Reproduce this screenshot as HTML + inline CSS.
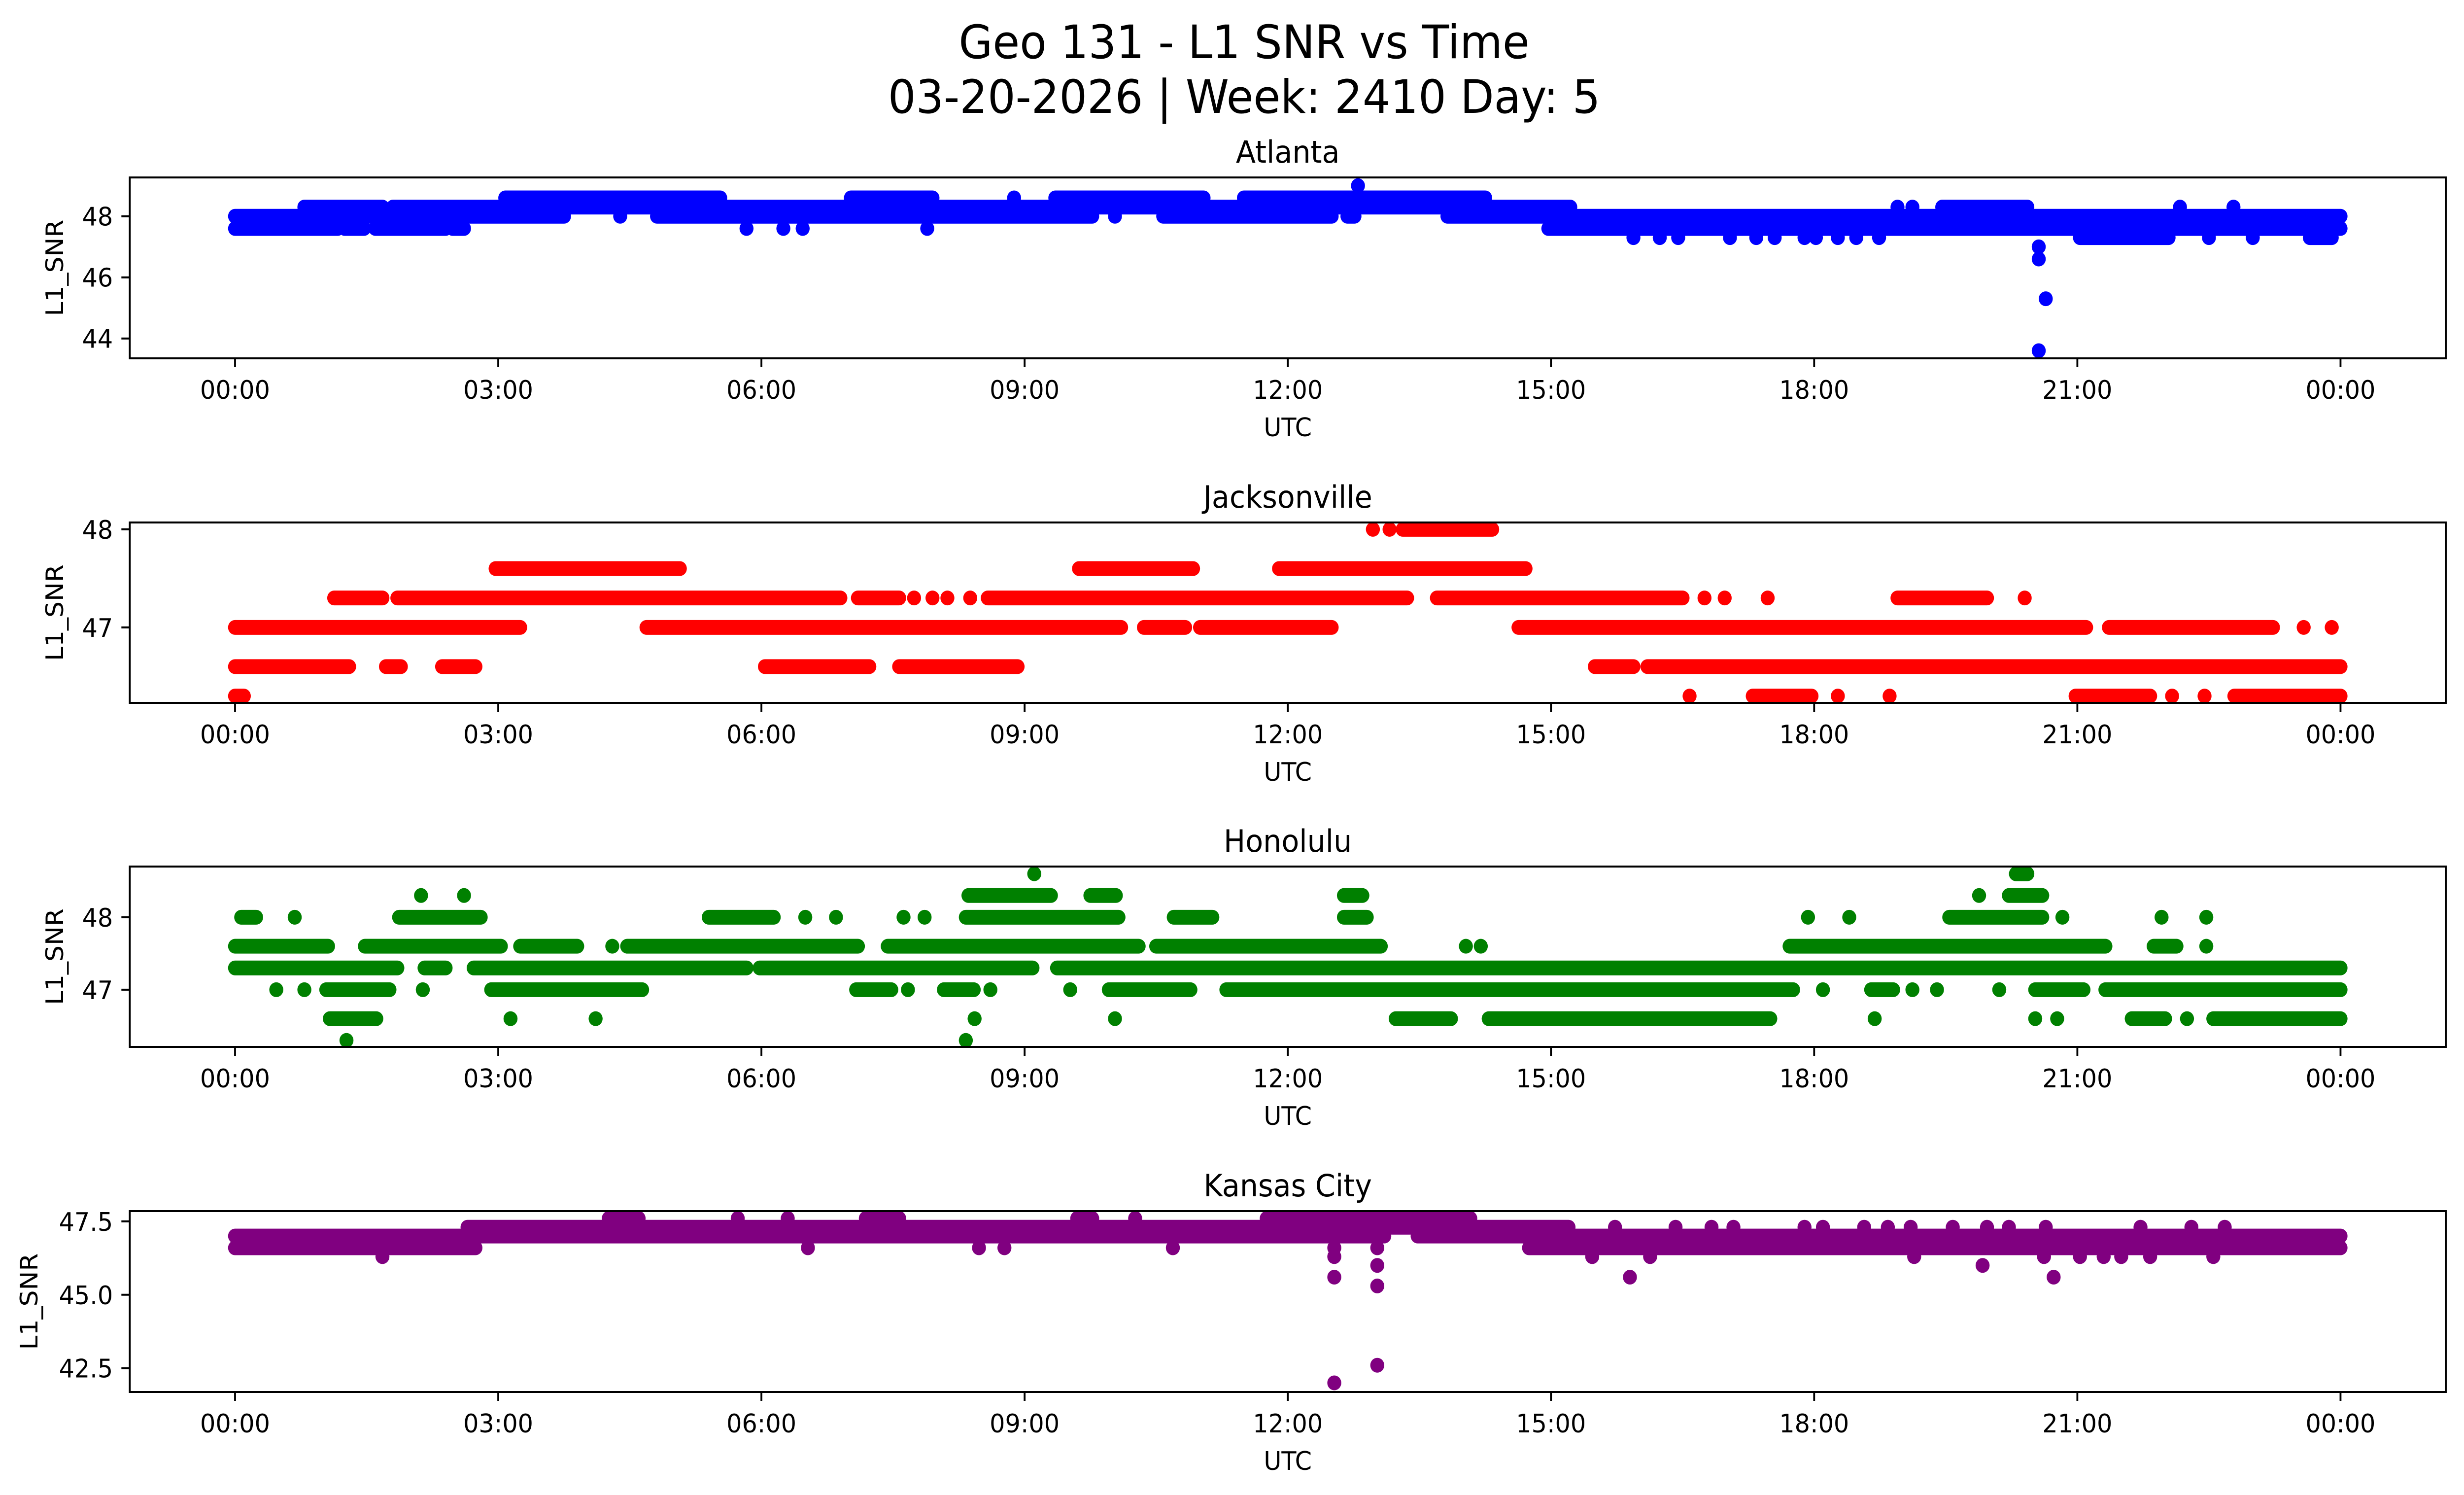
<!DOCTYPE html>
<html><head><meta charset="utf-8"><title>Geo 131 - L1 SNR vs Time</title>
<style>
html,body{margin:0;padding:0;background:#fff;overflow:hidden;width:100%;height:100%;}
svg{display:block;width:100vw;height:100vh;font-family:"DejaVu Sans","Liberation Sans",sans-serif;}
</style></head>
<body>
<svg id="fig" viewBox="0 0 5278 3033" preserveAspectRatio="none" xmlns="http://www.w3.org/2000/svg">
<rect width="5278" height="3033" fill="#fff"/>
<text x="2665" y="118" font-size="94" text-anchor="middle">Geo 131 - L1 SNR vs Time</text>
<text x="2665" y="229" font-size="94" text-anchor="middle">03-20-2026 | Week: 2410 Day: 5</text>
<g id="plots"></g>
</svg>
<script>
// ---- shared x axis data ----
const xTickHours = [0, 3, 6, 9, 12, 15, 18, 21, 24];
const xTickLabels = ["00:00","03:00","06:00","09:00","12:00","15:00","18:00","21:00","00:00"];

// ---- Atlanta ----
const atlLevels = [47.6, 48.0, 48.3, 48.6, 49.0, 47.3];
const atlRuns = [
  [[0,1.17],[1.25,1.47],[1.6,2.4],[2.48,2.61],[5.83,5.83],[6.25,6.25],[6.47,6.47],[7.89,7.89],[14.97,24]],
  [[0,3.75],[4.39,4.39],[4.81,9.77],[10.03,10.03],[10.58,12.5],[12.68,12.76],[13.82,24]],
  [[0.79,1.68],[1.8,15.22],[18.95,18.95],[19.12,19.12],[19.46,20.43],[22.17,22.17],[22.78,22.78]],
  [[3.08,5.53],[7.02,7.95],[8.88,8.88],[9.35,11.04],[11.5,14.25]],
  [[12.8,12.8]],
  [[15.94,15.94],[16.24,16.24],[16.45,16.45],[17.04,17.04],[17.34,17.34],[17.55,17.55],[17.89,17.89],[18.02,18.02],[18.27,18.27],[18.48,18.48],[18.74,18.74],[21.03,22.04],[22.5,22.5],[23.0,23.0],[23.65,23.9]]
];
const atlOutTime = [20.56, 20.56, 20.64, 20.56];
const atlOutValue = [47.0, 46.6, 45.3, 43.6];
const atlYTicks = [44, 46, 48];

// ---- Jacksonville ----
const jaxLevels = [48.0, 47.6, 47.3, 47.0, 46.6, 46.3];
const jaxRuns = [
  [[12.97,12.97],[13.16,13.16],[13.31,14.33]],
  [[2.97,5.07],[9.62,10.92],[11.9,14.71]],
  [[1.13,1.68],[1.85,6.9],[7.1,7.57],[7.74,7.74],[7.95,7.95],[8.12,8.12],[8.38,8.38],[8.58,13.36],[13.7,16.5],[16.75,16.75],[16.98,16.98],[17.47,17.47],[18.95,19.97],[20.4,20.4]],
  [[0,3.25],[4.69,10.1],[10.36,10.83],[11.0,12.5],[14.63,21.1],[21.36,23.23],[23.58,23.58],[23.9,23.9]],
  [[0,1.3],[1.72,1.89],[2.36,2.74],[6.04,7.23],[7.57,8.92],[15.5,15.94],[16.1,24]],
  [[0,0.1],[16.58,16.58],[17.3,17.97],[18.27,18.27],[18.86,18.86],[20.98,21.83],[22.08,22.08],[22.45,22.45],[22.79,24]]
];
const jaxOutTime = [];
const jaxOutValue = [];
const jaxYTicks = [47, 48];

// ---- Honolulu ----
const honLevels = [48.6, 48.3, 48.0, 47.6, 47.3, 47.0, 46.6, 46.3];
const honRuns = [
  [[9.11,9.11],[20.3,20.43]],
  [[2.12,2.12],[2.61,2.61],[8.36,9.3],[9.75,10.04],[12.64,12.85],[19.88,19.88],[20.22,20.6]],
  [[0.07,0.24],[0.68,0.68],[1.87,2.8],[5.4,6.14],[6.5,6.5],[6.85,6.85],[7.62,7.62],[7.86,7.86],[8.33,10.07],[10.7,11.14],[12.64,12.9],[17.93,17.93],[18.4,18.4],[19.54,20.6],[20.83,20.83],[21.96,21.96],[22.47,22.47]],
  [[0,1.06],[1.48,3.03],[3.25,3.9],[4.3,4.3],[4.47,7.1],[7.44,10.3],[10.5,13.06],[14.03,14.03],[14.2,14.2],[17.72,21.32],[21.87,22.13],[22.47,22.47]],
  [[0,1.85],[2.16,2.4],[2.72,5.83],[5.98,9.09],[9.37,24]],
  [[0.47,0.47],[0.79,0.79],[1.04,1.76],[2.14,2.14],[2.92,4.64],[7.08,7.48],[7.67,7.67],[8.08,8.42],[8.61,8.61],[9.52,9.52],[9.96,10.89],[11.3,17.76],[18.1,18.1],[18.65,18.9],[19.12,19.12],[19.4,19.4],[20.11,20.11],[20.52,21.07],[21.32,24]],
  [[1.08,1.61],[3.14,3.14],[4.11,4.11],[8.43,8.43],[10.03,10.03],[13.23,13.86],[14.29,17.5],[18.69,18.69],[20.52,20.52],[20.77,20.77],[21.62,22.0],[22.25,22.25],[22.55,24]],
  [[1.27,1.27],[8.33,8.33]]
];
const honOutTime = [];
const honOutValue = [];
const honYTicks = [47, 48];

// ---- Kansas City ----
const kcLevels = [47.6, 47.3, 47.0, 46.6, 46.3];
const kcRuns = [
  [[4.26,4.6],[5.73,5.73],[6.3,6.3],[7.19,7.57],[9.6,9.77],[10.26,10.26],[11.76,14.08]],
  [[2.65,15.2],[15.73,15.73],[16.42,16.42],[16.83,16.83],[17.08,17.08],[17.89,17.89],[18.1,18.1],[18.57,18.57],[18.84,18.84],[19.1,19.1],[19.58,19.58],[19.97,19.97],[20.22,20.22],[20.64,20.64],[21.72,21.72],[22.3,22.3],[22.68,22.68]],
  [[0,13.1],[13.48,24]],
  [[0,2.74],[6.53,6.53],[8.48,8.48],[8.77,8.77],[10.69,10.69],[12.53,12.53],[13.02,13.02],[14.75,24]],
  [[1.68,1.68],[12.53,12.53],[15.47,15.47],[16.13,16.13],[19.14,19.14],[20.62,20.62],[21.03,21.03],[21.3,21.3],[21.5,21.5],[21.83,21.83],[22.55,22.55]]
];
const kcOutTime = [12.53, 12.53, 13.02, 13.02, 13.02, 19.92, 15.9, 20.73];
const kcOutValue = [45.6, 42.0, 46.0, 45.3, 42.6, 46.0, 45.6, 45.6];
const kcYTicks = [42.5, 45.0, 47.5];

// ---- layout (not data) ----
const AX_L = 278, AX_R = 5239, X_MIN = -1.2, X_MAX = 25.2, R = 15;
const panels = [
  {key:"atlanta", title:"Atlanta", color:"#0000ff", top:360, bot:727, ymin:43.35, ymax:49.27, levels:atlLevels, runs:atlRuns, ot:atlOutTime, ov:atlOutValue, ticks:atlYTicks, fmt:v=>String(v), ylabX:135},
  {key:"jacksonville", title:"Jacksonville", color:"#ff0000", top:1060, bot:1426, ymin:46.23, ymax:48.07, levels:jaxLevels, runs:jaxRuns, ot:jaxOutTime, ov:jaxOutValue, ticks:jaxYTicks, fmt:v=>String(v), ylabX:135},
  {key:"honolulu", title:"Honolulu", color:"#008000", top:1758, bot:2124, ymin:46.21, ymax:48.70, levels:honLevels, runs:honRuns, ot:honOutTime, ov:honOutValue, ticks:honYTicks, fmt:v=>String(v), ylabX:135},
  {key:"kansas-city", title:"Kansas City", color:"#800080", top:2457, bot:2824, ymin:41.69, ymax:47.85, levels:kcLevels, runs:kcRuns, ot:kcOutTime, ov:kcOutValue, ticks:kcYTicks, fmt:v=>v.toFixed(1), ylabX:80}
];

const NS = "http://www.w3.org/2000/svg";
const root = document.getElementById("plots");
function mk(tag, attrs, parent){ const e=document.createElementNS(NS,tag); for(const k in attrs) e.setAttribute(k, attrs[k]); parent.appendChild(e); return e; }
function xScale(h){ return AX_L + (h - X_MIN) / (X_MAX - X_MIN) * (AX_R - AX_L); }

panels.forEach(p => {
  const yScale = v => p.bot - (v - p.ymin) / (p.ymax - p.ymin) * (p.bot - p.top);
  const g = mk("g", {}, root);
  
  

  const clipId = "clip-" + p.key;
  const cp = mk("clipPath", {id: clipId}, g);
  mk("rect", {x: AX_L, y: p.top, width: AX_R - AX_L, height: p.bot - p.top}, cp);

  const marks = mk("g", {"clip-path": "url(#" + clipId + ")"}, g);
  
  
  p.levels.forEach((lv, i) => {
    p.runs[i].forEach(run => {
      const ln = mk("line", {x1: xScale(run[0]), x2: xScale(run[1]), y1: yScale(lv), y2: yScale(lv), stroke: p.color, "stroke-width": 2*R, "stroke-linecap": "round"}, marks);
      
      
    });
  });
  p.ot.forEach((t, i) => {
    const c = mk("circle", {cx: xScale(t), cy: yScale(p.ov[i]), r: R, fill: p.color}, marks);
    
    
  });

  const frame = mk("rect", {x: AX_L, y: p.top, width: AX_R - AX_L, height: p.bot - p.top, fill: "none", stroke: "#000", "stroke-width": 4}, g);
  
  

  xTickHours.forEach((h, i) => {
    const x = xScale(h);
    const tk = mk("line", {x1: x, x2: x, y1: p.bot, y2: p.bot + 18, stroke: "#000", "stroke-width": 4}, g);
    
    
    const tl = mk("text", {x: x, y: p.bot + 82, "font-size": 52, "text-anchor": "middle"}, g);
    tl.textContent = xTickLabels[i];
    
    
  });

  p.ticks.forEach(v => {
    const y = yScale(v);
    const tk = mk("line", {x1: AX_L - 18, x2: AX_L, y1: y, y2: y, stroke: "#000", "stroke-width": 4}, g);
    
    
    const tl = mk("text", {x: AX_L - 36, y: y + 19, "font-size": 52, "text-anchor": "end"}, g);
    tl.textContent = p.fmt(v);
    
    
  });

  const xl = mk("text", {x: (AX_L + AX_R)/2, y: p.bot + 158, "font-size": 52, "text-anchor": "middle"}, g);
  xl.textContent = "UTC";
  
  

  const cy = (p.top + p.bot)/2;
  const yl = mk("text", {x: p.ylabX, y: cy, "font-size": 52, "text-anchor": "middle", transform: "rotate(-90 " + p.ylabX + " " + cy + ")"}, g);
  yl.textContent = "L1_SNR";
  
  

  const tt = mk("text", {x: (AX_L + AX_R)/2, y: p.top - 30, "font-size": 62, "text-anchor": "middle"}, g);
  tt.textContent = p.title;
  
  
});
</script>
</body></html>
